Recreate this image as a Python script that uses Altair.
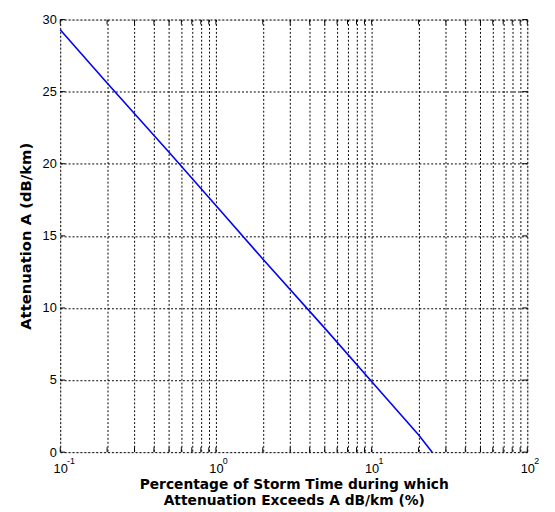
import altair as alt
import pandas as pd

# Data
pct = [0.1, 0.2, 0.5, 1.0, 2.0, 5.0, 10.0, 20.0, 24.5]
atten = [29.3, 25.6, 20.8, 17.1, 13.4, 8.6, 4.9, 1.2, 0.0]

x_ticks = [0.1, 0.2, 0.3, 0.4, 0.5, 0.6, 0.7, 0.8, 0.9,
           1, 2, 3, 4, 5, 6, 7, 8, 9,
           10, 20, 30, 40, 50, 60, 70, 80, 90, 100]
y_ticks = [0, 5, 10, 15, 20, 25, 30]
decades = [0.1, 1, 10, 100]
exponents = ["-1", "0", "1", "2"]

df = pd.DataFrame({"p": pct, "a": atten})
exp_df = pd.DataFrame({"p": decades, "e": exponents})
xt_df = pd.DataFrame({"p": x_ticks})
yt_df = pd.DataFrame({"a": y_ticks})

W, H = 474, 439
TL = 5  # inward tick length

label_expr = ("datum.value == 0.1 || datum.value == 1 || datum.value == 10 "
              "|| datum.value == 100 ? '10' : ''")

xscale = alt.Scale(type="log", domain=[0.1, 100], nice=False)
yscale = alt.Scale(domain=[0, 30], nice=False)

line = alt.Chart(df).mark_line(color="#0000ff", strokeWidth=1.6).encode(
    x=alt.X("p:Q", scale=xscale,
            axis=alt.Axis(values=x_ticks, labelExpr=label_expr,
                          title=["Percentage of Storm Time during which",
                                 "Attenuation Exceeds A dB/km (%)"],
                          grid=True, gridColor="black", gridDash=[2, 2],
                          gridOpacity=1, gridWidth=1, ticks=False,
                          domain=False, labelFont="Liberation Sans",
                          labelFontSize=13, labelColor="black",
                          labelBaseline="top", labelPadding=11,
                          labelFlush=False, labelOverlap=False,
                          titleFont="DejaVu Sans", titleFontSize=14,
                          titleFontWeight="bold", titleColor="black",
                          titlePadding=2, titleLineHeight=16)),
    y=alt.Y("a:Q", scale=yscale,
            axis=alt.Axis(values=y_ticks, title="Attenuation A (dB/km)",
                          grid=True, gridColor="black", gridDash=[2, 2],
                          gridOpacity=1, gridWidth=1, ticks=False,
                          domain=False, labelFont="Liberation Sans",
                          labelFontSize=13, labelColor="black",
                          labelPadding=4,
                          titleFont="DejaVu Sans", titleFontSize=15,
                          titleFontWeight="bold", titleColor="black",
                          titlePadding=9)),
)

exps = alt.Chart(exp_df).mark_text(
    align="left", baseline="middle", dx=7, fontSize=9,
    font="Liberation Sans", color="black"
).encode(
    x=alt.X("p:Q", scale=xscale),
    y=alt.value(448),
    text="e:N",
)

xt_bottom = alt.Chart(xt_df).mark_rule(color="black", strokeWidth=1).encode(
    x=alt.X("p:Q", scale=xscale), y=alt.value(H), y2=alt.value(H - TL))
xt_top = alt.Chart(xt_df).mark_rule(color="black", strokeWidth=1).encode(
    x=alt.X("p:Q", scale=xscale), y=alt.value(0), y2=alt.value(TL))
yt_left = alt.Chart(yt_df).mark_rule(color="black", strokeWidth=1).encode(
    y=alt.Y("a:Q", scale=yscale), x=alt.value(0), x2=alt.value(TL))
yt_right = alt.Chart(yt_df).mark_rule(color="black", strokeWidth=1).encode(
    y=alt.Y("a:Q", scale=yscale), x=alt.value(W), x2=alt.value(W - TL))

chart = alt.layer(line, xt_bottom, xt_top, yt_left, yt_right, exps).properties(
    width=W, height=H,
    autosize=alt.AutoSizeParams(type="none"),
    padding={"left": 53, "top": 8, "right": 20, "bottom": 57},
).configure_view(
    stroke="black", strokeWidth=2.5
).configure(background="white")

chart.save("out.html", embed_options={"renderer": "svg", "actions": False})
